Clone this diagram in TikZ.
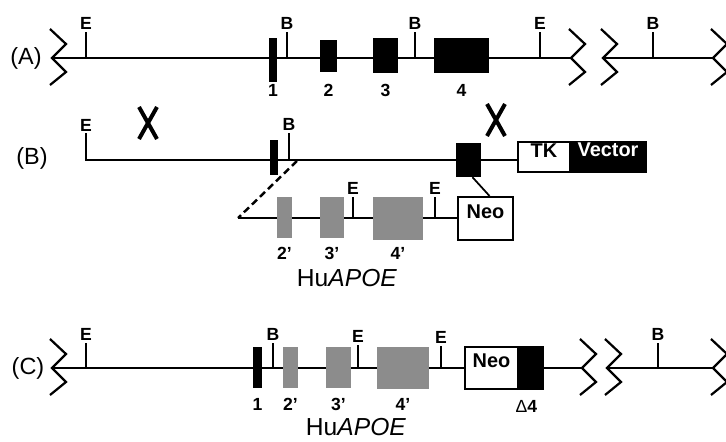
\documentclass[tikz,border=0pt]{standalone}
\usepackage{fontspec}
\setmainfont{Liberation Sans}
\usetikzlibrary{calc,positioning,fit}
\colorlet{huGrey}{black!45}

\begin{document}
\begin{tikzpicture}[x=0.03cm,y=-0.03cm,
    dna/.style={line width=2.1pt},
    site/.style={line width=1.9pt},
    sitelab/.style={font=\bfseries\fontsize{15}{15}\selectfont, inner sep=1pt},
    exonM/.style={fill=black, inner sep=0pt},
    exonH/.style={fill=huGrey, inner sep=0pt},
    exonlab/.style={font=\bfseries\fontsize{15}{15}\selectfont, inner sep=0pt},
    rowlab/.style={font=\fontsize{20}{20}\selectfont, inner sep=0pt},
    genelab/.style={font=\fontsize{21}{21}\selectfont, inner sep=0pt},
    cassette/.style={draw, fill=white, line width=1.8pt, inner sep=0pt,
      font=\bfseries\fontsize{17}{17}\selectfont},
    brk/.style={line width=1.9pt},
    cut/.style={line width=3.4pt}]
  \useasboundingbox (0,0) rectangle (726,441);

  % break marks on the chromosome lines
  \foreach \bx/\by in {52/58,571/58,603/58,713/58,52/368,582/368,607/368,713/368}
    \draw[brk] (\bx-2,\by-29) -- (\bx+14,\by-14) -- (\bx,\by) -- (\bx+14,\by+14) -- (\bx-2,\by+27);

  % (A) mouse apoE locus
  \node[rowlab] (labA) at (26,58) {(A)};
  \coordinate (a0) at (52,58);
  \coordinate (a1) at (571,58);
  \coordinate (a2) at (603,58);
  \coordinate (a3) at (713,58);
  \draw[dna] (a0) -- (a1);
  \draw[dna] (a2) -- (a3);
  \foreach \sx/\sn [count=\i] in {86/E,287/B,415/B,540/E,653/B}
    \draw[site] (\sx,58) -- ++(0,-26) node[sitelab, above] (sA\i) {\sn};
  \node[exonM, fit={(269,38) (277,82)}] (A1) {};
  \node[exonM, fit={(320,40) (337,72)}] (A2) {};
  \node[exonM, fit={(373,38) (398,73)}] (A3) {};
  \node[exonM, fit={(434,38) (489,73)}] (A4) {};
  \coordinate (lblA) at (0,90);
  \foreach \e in {1,...,4}
    \node[exonlab] (nA\e) at (A\e |- lblA) {\e};

  % (B) targeting vector
  \node[rowlab] (labB) at (32,158) {(B)};
  \coordinate (bE) at (86,133);
  \coordinate (b0) at (86,160);
  \node[cassette, fit={(518,142) (570,172)}] (TK) {TK};
  \node[cassette, fill=black, text=white, fit={(570,142) (646,172)}] (Vec) {Vector};
  \draw[dna] (bE) -- (b0) -- (b0 -| TK.west);
  \node[sitelab, above] (sB1) at (bE) {E};
  \draw[site] (289,160) -- ++(0,-27) node[sitelab, above] (sB2) {B};
  \node[exonM, fit={(270,140) (278,175)}] (B1) {};
  \node[exonM, fit={(456,143) (481,177)}] (B4) {};
  % crossover marks
  \foreach \cx/\cy in {148/123,496/120} {
    \draw[cut] (\cx-9,\cy-16) -- (\cx+9,\cy+16);
    \draw[cut] (\cx+9,\cy-16) -- (\cx-9,\cy+16);
  }

  % human insert
  \coordinate (ins1) at (297,161);
  \coordinate (ins0) at (238,218);
  \node[cassette, fit={(458,197) (513,240)}] (NeoB) {Neo};
  \draw[dna, dash pattern=on 6pt off 3.5pt] (ins1) -- (ins0);
  \draw[dna] (ins0) -- (ins0 -| NeoB.west);
  \node[exonH, fit={(277,197) (292,238)}] (H2) {};
  \node[exonH, fit={(320,197) (344,238)}] (H3) {};
  \node[exonH, fit={(373,197) (423,240)}] (H4) {};
  \foreach \sx [count=\i] in {353,435}
    \draw[site] (\sx,218) -- ++(0,-21) node[sitelab, above] (sH\i) {E};
  \draw[line width=1.5pt] ($(B4.south)+(4,0)$) -- ($(NeoB.north)+(4,0)$);
  \coordinate (lblB) at (0,253);
  \foreach \e in {2,3,4}
    \node[exonlab] (nH\e) at (H\e |- lblB) {\e’};
  \node[genelab] (geneB) at (347,278) {Hu\textit{APOE}};

  % (C) targeted allele
  \node[rowlab] (labC) at (28,368) {(C)};
  \coordinate (c0) at (52,368);
  \coordinate (c1) at (582,368);
  \coordinate (c2) at (607,368);
  \coordinate (c3) at (713,368);
  \draw[dna] (c0) -- (c1);
  \draw[dna] (c2) -- (c3);
  \foreach \sx/\sn/\sl [count=\i] in {86/E/25,273/B/25,358/E/23,441/E/22,658/B/25}
    \draw[site] (\sx,368) -- ++(0,-\sl) node[sitelab, above] (sC\i) {\sn};
  \node[exonM, fit={(253,347) (262,388)}] (C1) {};
  \node[exonH, fit={(283,347) (298,388)}] (C2) {};
  \node[exonH, fit={(326,347) (351,388)}] (C3) {};
  \node[exonH, fit={(377,347) (429,389)}] (C4) {};
  \node[cassette, fit={(465,347) (518,389)}] (NeoC) {Neo};
  \node[cassette, fill=black, fit={(518,347) (543,389)}] (D4) {};
  \coordinate (lblC) at (0,404);
  \node[exonlab] (nC1) at (C1 |- lblC) {1};
  \foreach \e in {2,3,4}
    \node[exonlab] (nC\e) at (C\e |- lblC) {\e’};
  \node[exonlab, font=\fontsize{15}{15}\selectfont] (nD4) at ($(D4 |- lblC)+(-4,2)$) {Δ\textbf{4}};
  \node[genelab] (geneC) at (356,427) {Hu\textit{APOE}};
\end{tikzpicture}
\end{document}
